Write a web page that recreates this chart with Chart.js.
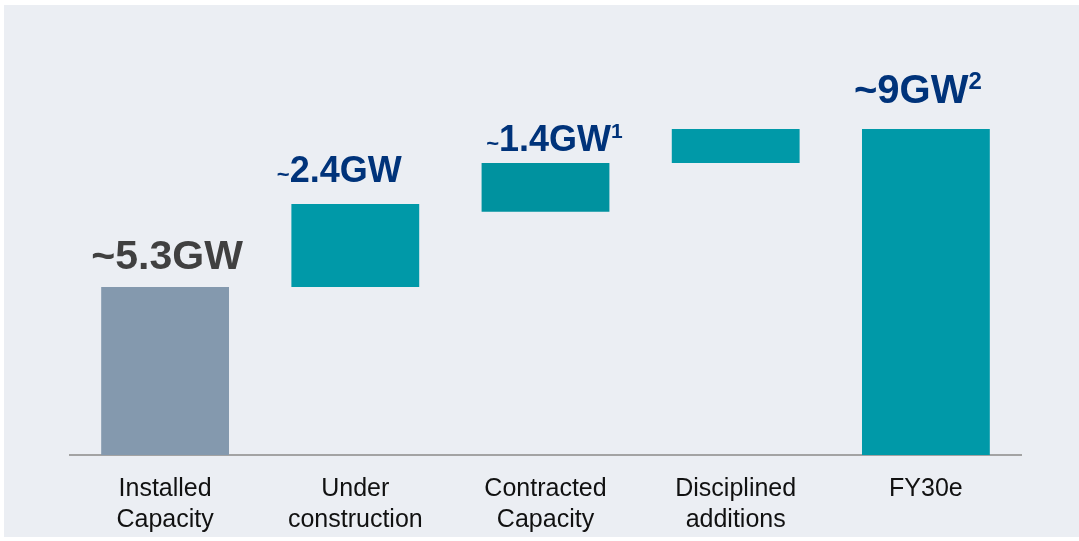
<!DOCTYPE html>
<html>
<head>
<meta charset="utf-8">
<script src="https://cdn.jsdelivr.net/npm/chart.js@4/dist/chart.umd.min.js"></script>
<style>
  html, body { margin: 0; padding: 0; background: #fff; }
  #wrap { width: 1079px; height: 541px; }
</style>
</head>
<body>
<div id="wrap"><canvas id="myChart" width="1079" height="541"></canvas></div>
<script>
"use strict";
// categories and floating bar ranges (GW)
const categories = [
  ["Installed", "Capacity"],
  ["Under", "construction"],
  ["Contracted", "Capacity"],
  ["Disciplined", "additions"],
  ["FY30e"],
];
const barStarts = [0, 5.3, 7.67, 9.21, 0];
const barEnds = [5.3, 7.92, 9.21, 10.28, 10.28];
const valueTexts = ["5.3GW", "2.4GW", "1.4GW", "", "9GW"];
const footnotes = ["", "", "1", "", "2"];

const barColors = ["#8499ae", "#0099a8", "#00929f", "#0099a8", "#0099a8"];
const FONT = "'Liberation Sans', Arial, sans-serif";

// how each value label is drawn
const labelStyles = [
  { color: "#404040", size: 41, tilde: 41, sup: 0, rise: 0, dx: 2, dy: -18 },
  { color: "#00337a", size: 36, tilde: 22, sup: 0, rise: 0, dx: -16, dy: -22 },
  { color: "#00337a", size: 36, tilde: 22, sup: 21, rise: 13, dx: 9, dy: -12 },
  null,
  { color: "#00337a", size: 40, tilde: 40, sup: 24, rise: 14, dx: -8, dy: -26 },
];

const ranges = barStarts.map((s, i) => [s, barEnds[i]]);

const panelPlugin = {
  id: "panel",
  beforeDraw(chart) {
    const c = chart.ctx;
    c.save();
    c.fillStyle = "#ffffff";
    c.fillRect(0, 0, chart.width, chart.height);
    c.fillStyle = "#ebeef3";
    c.fillRect(4, 5, chart.width - 4, 532);
    c.restore();
  },
};

const labelPlugin = {
  id: "valueLabels",
  afterDatasetsDraw(chart) {
    const c = chart.ctx;
    const bars = chart.getDatasetMeta(0).data;
    bars.forEach((bar, i) => {
      const st = labelStyles[i];
      if (!st || !valueTexts[i]) return;
      c.save();
      c.fillStyle = st.color;
      c.textBaseline = "alphabetic";
      c.textAlign = "left";
      c.font = `bold ${st.tilde}px ${FONT}`;
      const wt = c.measureText("~").width;
      c.font = `bold ${st.size}px ${FONT}`;
      const wm = c.measureText(valueTexts[i]).width;
      let ws = 0;
      if (footnotes[i]) {
        c.font = `bold ${st.sup}px ${FONT}`;
        ws = c.measureText(footnotes[i]).width;
      }
      let x = bar.x - (wt + wm + ws) / 2 + st.dx;
      const y = bar.y + st.dy;
      c.font = `bold ${st.tilde}px ${FONT}`;
      c.fillText("~", x, y);
      x += wt;
      c.font = `bold ${st.size}px ${FONT}`;
      c.fillText(valueTexts[i], x, y);
      x += wm;
      if (footnotes[i]) {
        c.font = `bold ${st.sup}px ${FONT}`;
        c.fillText(footnotes[i], x, y - st.rise);
      }
      c.restore();
    });
  },
};

const ctx = document.getElementById("myChart");
const myChart = new Chart(ctx, {
  type: "bar",
  data: {
    labels: categories,
    datasets: [
      {
        data: ranges,
        backgroundColor: barColors,
        borderWidth: 0,
        barPercentage: 0.672,
        categoryPercentage: 1,
      },
    ],
  },
  options: {
    responsive: false,
    animation: false,
    layout: { padding: { left: 70, right: 58, top: 0, bottom: -14 } },
    plugins: { legend: { display: false }, tooltip: { enabled: false } },
    scales: {
      x: {
        grid: { display: false, drawTicks: false },
        border: { display: true, color: "#a3a3a3", width: 2 },
        ticks: {
          color: "#111111",
          padding: 19,
          maxRotation: 0,
          autoSkip: false,
          font: { family: FONT, size: 25, lineHeight: 1.24 },
        },
      },
      y: { display: false, min: 0, max: 14.35 },
    },
  },
  plugins: [panelPlugin, labelPlugin],
});
</script>
</body>
</html>
